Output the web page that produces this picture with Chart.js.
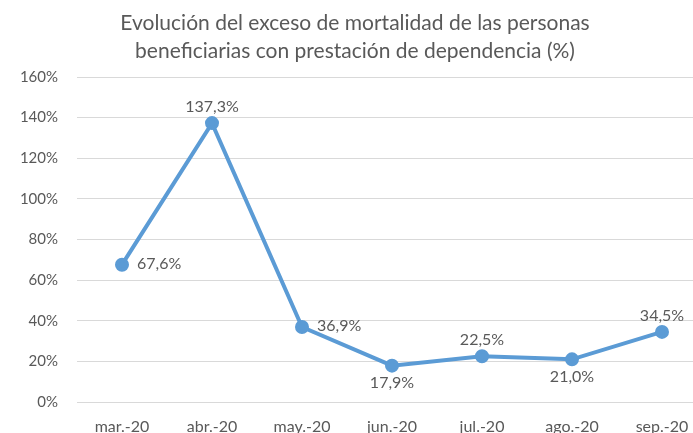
<!DOCTYPE html>
<html>
<head>
<meta charset="utf-8">
<script src="https://cdn.jsdelivr.net/npm/chart.js@4/dist/chart.umd.min.js"></script>
<style>
  html, body { margin: 0; padding: 0; background: #fff; overflow: hidden; }
  #wrap { width: 716px; height: 440px; }
</style>
</head>
<body>
<div id="wrap"><canvas id="myChart" width="716" height="440"></canvas></div>
<script>
const months = ['mar.-20', 'abr.-20', 'may.-20', 'jun.-20', 'jul.-20', 'ago.-20', 'sep.-20'];
const excess = [67.6, 137.3, 36.9, 17.9, 22.5, 21.0, 34.5];
const labelPositions = ['right', 'top', 'right', 'bottom', 'top', 'bottom', 'top'];
const titleLines = ['Evolución del exceso de mortalidad de las personas',
                    'beneficiarias con prestación de dependencia (%)'];

const textColor = '#595959';
const fontFamily = 'Lato, "Open Sans", sans-serif';

// title drawn by hand so the two lines sit where Excel put them
const titlePlugin = {
  id: 'excelTitle',
  afterDraw(chart) {
    const c = chart.ctx;
    c.save();
    c.fillStyle = textColor;
    c.font = '21px ' + fontFamily;
    c.textAlign = 'center';
    c.textBaseline = 'middle';
    c.fillText(titleLines[0], 355, 23);
    c.fillText(titleLines[1], 355, 51);
    c.restore();
  }
};

// value labels, comma as decimal separator
const valueLabels = {
  id: 'valueLabels',
  afterDatasetsDraw(chart) {
    const c = chart.ctx;
    const meta = chart.getDatasetMeta(0);
    c.save();
    c.fillStyle = textColor;
    c.font = '16px ' + fontFamily;
    meta.data.forEach((pt, i) => {
      const txt = excess[i].toFixed(1).replace('.', ',') + '%';
      const pos = labelPositions[i];
      let x = pt.x, y = pt.y;
      if (pos === 'right') { c.textAlign = 'left'; c.textBaseline = 'middle'; x += 15; y -= 1; }
      else if (pos === 'top') { c.textAlign = 'center'; c.textBaseline = 'bottom'; y -= 8; }
      else { c.textAlign = 'center'; c.textBaseline = 'top'; y += 9; }
      c.fillText(txt, x, y);
    });
    c.restore();
  }
};

const ctx = document.getElementById('myChart');

new Chart(ctx, {
  type: 'line',
  data: {
    labels: months,
    datasets: [{
      data: excess,
      borderColor: '#5B9BD5',
      backgroundColor: '#5B9BD5',
      borderWidth: 4,
      pointRadius: 5,
      pointHoverRadius: 5,
      tension: 0
    }]
  },
  options: {
    responsive: false,
    animation: false,
    devicePixelRatio: 1,
    layout: { padding: { top: 77, right: 2, left: 0, bottom: 0 } },
    plugins: { legend: { display: false }, title: { display: false }, tooltip: { enabled: false } },
    scales: {
      x: {
        offset: true,
        grid: { display: false, drawTicks: false },
        border: { display: false },
        ticks: { color: textColor, font: { family: fontFamily, size: 16 }, padding: 15, maxRotation: 0, autoSkip: false },
        afterFit(scale) { scale.height = 38; }
      },
      y: {
        min: 0,
        max: 160,
        grid: { color: '#D9D9D9', lineWidth: 1, drawTicks: false },
        border: { display: false },
        ticks: {
          stepSize: 20,
          color: textColor,
          font: { family: fontFamily, size: 15 },
          padding: 19,
          callback: v => v + '%'
        },
        afterFit(scale) { scale.width = 77; }
      }
    }
  },
  plugins: [titlePlugin, valueLabels]
});
</script>
</body>
</html>
